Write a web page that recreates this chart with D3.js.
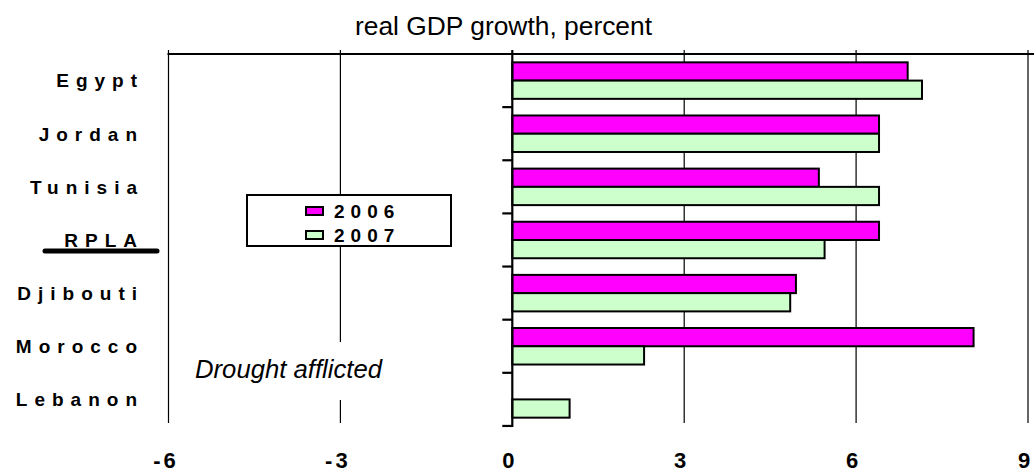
<!DOCTYPE html>
<html>
<head>
<meta charset="utf-8">
<script src="https://cdn.jsdelivr.net/npm/d3@7"></script>
<style>
body { margin: 0; background: #fff; }
svg { display: block; font-family: "Liberation Sans", Arial, sans-serif; }
</style>
</head>
<body>
<svg></svg>
<script>
// values
var countries = ["Egypt", "Jordan", "Tunisia", "RPLA", "Djibouti", "Morocco", "Lebanon"];
var years = ["2006", "2007"];
var growth2006 = [6.9, 6.4, 5.35, 6.4, 4.95, 8.05, 0];
var growth2007 = [7.15, 6.4, 6.4, 5.45, 4.85, 2.3, 1.0];
var xTicks = [-6, -3, 0, 3, 6, 9];
var gridTicks = [-6, -3, 3, 6, 9];

var screen = {width: 1034, height: 472};
var colors = {"2006": "#ff00ff", "2007": "#ccffcc"};

var rows = countries.map(function(c, i){
    return {name: c, "2006": growth2006[i], "2007": growth2007[i]};
});

var svg = d3.select("svg")
    .attr("width", screen.width)
    .attr("height", screen.height);

var xScale = d3.scaleLinear()
    .domain([-6, 9])
    .range([168.5, 1028]);

var yScale = d3.scaleBand()
    .domain(countries)
    .range([54, 426])
    .paddingInner(0.313)
    .paddingOuter(0.157);

var subScale = d3.scaleBand()
    .domain(years)
    .range([0, yScale.bandwidth()]);

var step = yScale.step();
var plotTop = yScale.range()[0], plotBottom = yScale.range()[1];

// vertical gridlines
svg.append("g").selectAll("line")
    .data(gridTicks)
    .enter().append("line")
    .attr("x1", function(d){ return xScale(d); })
    .attr("x2", function(d){ return xScale(d); })
    .attr("y1", plotTop - 4)
    .attr("y2", plotBottom - 3)
    .attr("stroke", "#000")
    .attr("stroke-width", 1.2);

// top border
svg.append("line")
    .attr("x1", xScale(-6) - 1).attr("x2", screen.width)
    .attr("y1", plotTop).attr("y2", plotTop)
    .attr("stroke", "#000").attr("stroke-width", 2);

// bars
var groups = svg.append("g").selectAll("g")
    .data(rows)
    .enter().append("g")
    .attr("transform", function(d){ return "translate(0," + yScale(d.name) + ")"; });

groups.selectAll("rect")
    .data(function(d){ return years.map(function(y){ return {year: y, value: d[y]}; }); })
    .enter().append("rect")
    .attr("x", function(d){ return xScale(Math.min(0, d.value)); })
    .attr("y", function(d){ return subScale(d.year); })
    .attr("width", function(d){ return Math.abs(xScale(d.value) - xScale(0)); })
    .attr("height", subScale.bandwidth())
    .attr("fill", function(d){ return colors[d.year]; })
    .attr("stroke", "#000")
    .attr("stroke-width", 2);

// zero axis with category ticks
svg.append("line")
    .attr("x1", xScale(0)).attr("x2", xScale(0))
    .attr("y1", plotTop - 4).attr("y2", plotBottom + 1)
    .attr("stroke", "#000").attr("stroke-width", 2.2);

svg.append("g").selectAll("line")
    .data(d3.range(1, countries.length + 1))
    .enter().append("line")
    .attr("x1", xScale(0) - 10).attr("x2", xScale(0))
    .attr("y1", function(i){ return plotTop + i * step; })
    .attr("y2", function(i){ return plotTop + i * step; })
    .attr("stroke", "#000").attr("stroke-width", 2.2);

// category labels
svg.append("g").selectAll("text")
    .data(countries)
    .enter().append("text")
    .attr("x", 144)
    .attr("y", function(d){ return yScale(d) + yScale.bandwidth() / 2; })
    .attr("dy", "0.36em")
    .attr("text-anchor", "end")
    .attr("font-size", 19)
    .attr("font-weight", "bold")
    .attr("letter-spacing", 7)
    .text(function(d){ return d; });

svg.append("line")
    .attr("x1", 45).attr("x2", 157)
    .attr("y1", yScale("RPLA") + yScale.bandwidth() / 2 + 11)
    .attr("y2", yScale("RPLA") + yScale.bandwidth() / 2 + 11)
    .attr("stroke", "#000").attr("stroke-width", 5)
    .attr("stroke-linecap", "round");

// x tick labels
svg.append("g").selectAll("text")
    .data(xTicks)
    .enter().append("text")
    .attr("x", function(d){ return xScale(d) - 2.5; })
    .attr("y", 468)
    .attr("text-anchor", "middle")
    .attr("font-size", 22)
    .attr("font-weight", "bold")
    .attr("letter-spacing", 3)
    .text(function(d){ return d < 0 ? "-" + Math.abs(d) : String(d); });

// title
svg.append("text")
    .attr("x", 355).attr("y", 35)
    .attr("font-size", 25)
    .attr("textLength", 297)
    .attr("lengthAdjust", "spacingAndGlyphs")
    .text("real GDP growth, percent");

// annotation
svg.append("rect")
    .attr("x", 190).attr("y", 342).attr("width", 196).attr("height", 58)
    .attr("fill", "#fff");
svg.append("text")
    .attr("x", 195).attr("y", 378)
    .attr("font-size", 26)
    .attr("font-style", "italic")
    .attr("textLength", 187)
    .attr("lengthAdjust", "spacingAndGlyphs")
    .text("Drought afflicted");

// legend
var legend = svg.append("g").attr("transform", "translate(247,195)");
legend.append("rect")
    .attr("width", 204).attr("height", 51)
    .attr("fill", "#fff").attr("stroke", "#000").attr("stroke-width", 2);

var items = legend.selectAll("g.item")
    .data(years)
    .enter().append("g")
    .attr("class", "item")
    .attr("transform", function(d, i){ return "translate(0," + (i * 24) + ")"; });

items.append("rect")
    .attr("x", 59).attr("y", 12).attr("width", 17).attr("height", 8)
    .attr("fill", function(d){ return colors[d]; })
    .attr("stroke", "#000").attr("stroke-width", 2);

items.append("text")
    .attr("x", 87).attr("y", 23)
    .attr("font-size", 19)
    .attr("font-weight", "bold")
    .attr("letter-spacing", 6)
    .text(function(d){ return d; });
</script>
</body>
</html>
